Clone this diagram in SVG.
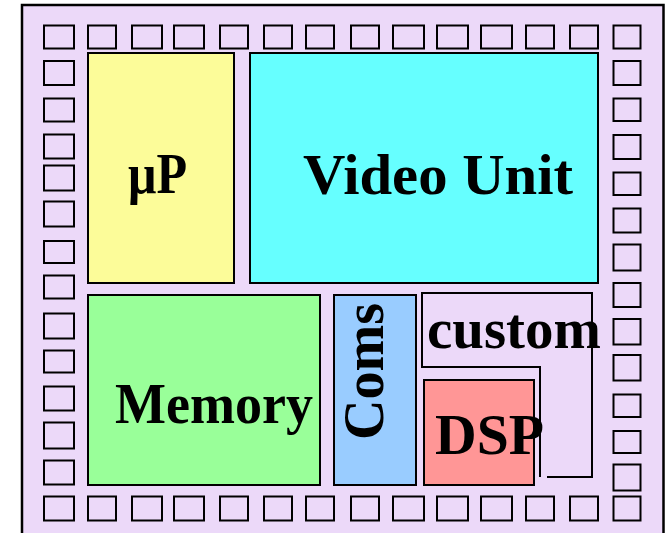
<svg xmlns="http://www.w3.org/2000/svg" width="666" height="533" viewBox="0 0 666 533">
<style>
.pad{fill:none;stroke:#000;stroke-width:2}
.blk{stroke:#000;stroke-width:2}
.lbl{font-family:"Liberation Serif","Times New Roman",serif;font-weight:bold;font-size:56px;fill:#000}
</style>
<rect width="666" height="533" fill="#fff"/>
<g id="chip">
<rect x="22" y="5" width="641.5" height="540" fill="#ECD9F9" stroke="#000" stroke-width="2.5"/>
</g>
<g id="pads">
<rect class="pad" x="44" y="25.5" width="30" height="23"/>
<rect class="pad" x="88" y="25.5" width="28" height="23"/>
<rect class="pad" x="132" y="25.5" width="30" height="23"/>
<rect class="pad" x="174" y="25.5" width="30" height="23"/>
<rect class="pad" x="220" y="25.5" width="28" height="23"/>
<rect class="pad" x="264" y="25.5" width="28" height="23"/>
<rect class="pad" x="306" y="25.5" width="28" height="23"/>
<rect class="pad" x="351" y="25.5" width="28" height="23"/>
<rect class="pad" x="393" y="25.5" width="31" height="23"/>
<rect class="pad" x="437" y="25.5" width="31" height="23"/>
<rect class="pad" x="481" y="25.5" width="31" height="23"/>
<rect class="pad" x="526" y="25.5" width="28" height="23"/>
<rect class="pad" x="570" y="25.5" width="28" height="23"/>
<rect class="pad" x="613.5" y="25.5" width="27" height="23"/>
<rect class="pad" x="44" y="61" width="30" height="24"/>
<rect class="pad" x="44" y="98.5" width="30" height="23"/>
<rect class="pad" x="44" y="134.5" width="30" height="24"/>
<rect class="pad" x="44" y="165.5" width="30" height="25"/>
<rect class="pad" x="44" y="201.5" width="30" height="25"/>
<rect class="pad" x="44" y="241" width="30" height="22"/>
<rect class="pad" x="44" y="275.5" width="30" height="23"/>
<rect class="pad" x="44" y="313.5" width="30" height="25"/>
<rect class="pad" x="44" y="350.5" width="30" height="22"/>
<rect class="pad" x="44" y="386.5" width="30" height="24"/>
<rect class="pad" x="44" y="422.5" width="30" height="26"/>
<rect class="pad" x="44" y="460.5" width="30" height="24"/>
<rect class="pad" x="613.5" y="61" width="27" height="24"/>
<rect class="pad" x="613.5" y="98.5" width="27" height="22.5"/>
<rect class="pad" x="613.5" y="135" width="27" height="24"/>
<rect class="pad" x="613.5" y="172.5" width="27" height="22.5"/>
<rect class="pad" x="613.5" y="208.5" width="27" height="24"/>
<rect class="pad" x="613.5" y="244.5" width="27" height="26"/>
<rect class="pad" x="613.5" y="283" width="27" height="24"/>
<rect class="pad" x="613.5" y="319" width="27" height="25.5"/>
<rect class="pad" x="613.5" y="355" width="27" height="25.5"/>
<rect class="pad" x="613.5" y="394.5" width="27" height="22.5"/>
<rect class="pad" x="613.5" y="431" width="27" height="22"/>
<rect class="pad" x="613.5" y="464.5" width="27" height="26"/>
<rect class="pad" x="44" y="496.5" width="30" height="24"/>
<rect class="pad" x="88" y="496.5" width="28" height="24"/>
<rect class="pad" x="132" y="496.5" width="30" height="24"/>
<rect class="pad" x="174" y="496.5" width="30" height="24"/>
<rect class="pad" x="220" y="496.5" width="28" height="24"/>
<rect class="pad" x="264" y="496.5" width="28" height="24"/>
<rect class="pad" x="306" y="496.5" width="28" height="24"/>
<rect class="pad" x="351" y="496.5" width="28" height="24"/>
<rect class="pad" x="393" y="496.5" width="31" height="24"/>
<rect class="pad" x="437" y="496.5" width="31" height="24"/>
<rect class="pad" x="481" y="496.5" width="31" height="24"/>
<rect class="pad" x="526" y="496.5" width="28" height="24"/>
<rect class="pad" x="570" y="496.5" width="28" height="24"/>
<rect class="pad" x="613.5" y="496.5" width="27" height="24"/>
</g>
<g id="up">
<rect class="blk" x="88" y="53" width="146" height="230" fill="#FCFC99"/>
<text class="lbl" x="128" y="193" textLength="59" lengthAdjust="spacingAndGlyphs">μP</text>
</g>
<g id="video">
<rect class="blk" x="250" y="53" width="348" height="230" fill="#66FFFF"/>
<text class="lbl" x="303" y="194" font-size="58" textLength="270" lengthAdjust="spacingAndGlyphs">Video Unit</text>
</g>
<g id="memory">
<rect class="blk" x="88" y="295" width="232" height="190" fill="#99FF99"/>
<text class="lbl" x="115" y="423" textLength="198" lengthAdjust="spacingAndGlyphs">Memory</text>
</g>
<g id="coms">
<rect class="blk" x="334" y="295" width="82" height="190" fill="#99CCFF"/>
<text class="lbl" transform="translate(383,440) rotate(-90)" textLength="137" lengthAdjust="spacingAndGlyphs">Coms</text>
</g>
<g id="custom">
<path d="M547,477 H592 V293 H422 V367 H540 V477" fill="none" stroke="#000" stroke-width="2"/>
</g>
<g id="dsp">
<rect class="blk" x="424" y="380" width="110" height="105" fill="#FF9696"/>
<text class="lbl" x="435" y="454" font-size="57" textLength="109" lengthAdjust="spacingAndGlyphs">DSP</text>
</g>
<g id="custom-label">
<text class="lbl" x="427" y="348" font-size="57" textLength="174" lengthAdjust="spacingAndGlyphs">custom</text>
</g>
</svg>
